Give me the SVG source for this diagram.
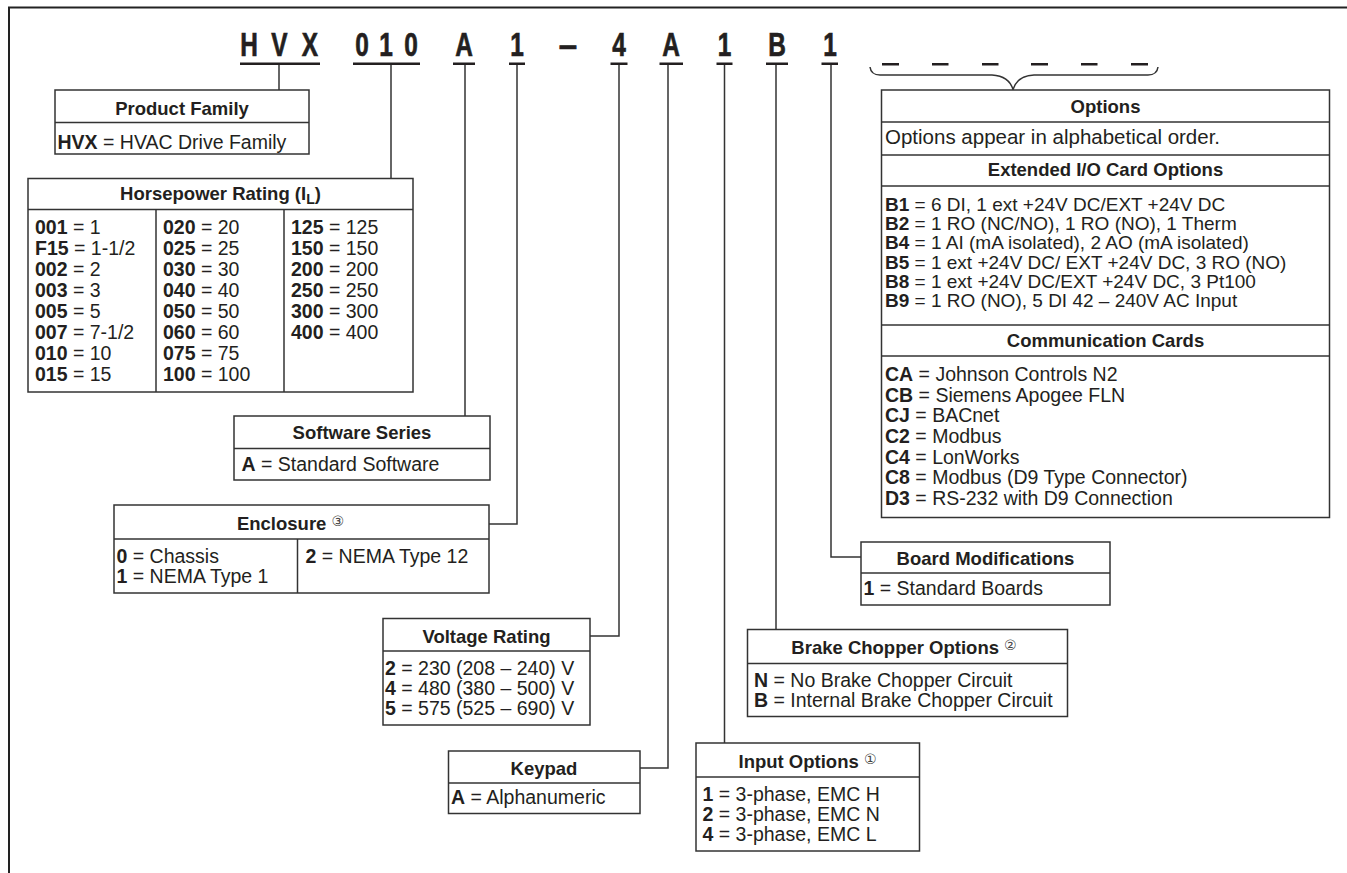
<svg xmlns="http://www.w3.org/2000/svg" width="1347" height="873" viewBox="0 0 1347 873">
<style>
.box{fill:#fff;stroke:#333;stroke-width:1.5}
.div{fill:none;stroke:#333;stroke-width:1.5}
.ln{fill:none;stroke:#333;stroke-width:1.5}
.frame{fill:none;stroke:#222;stroke-width:2}
.h{font-family:"Liberation Sans",Arial,sans-serif;font-weight:bold;font-size:18.5px;fill:#231f20;text-anchor:middle}
.t{font-family:"Liberation Sans",Arial,sans-serif;font-size:19.5px;fill:#231f20}
.s{font-size:19px}
.b{font-weight:bold}
.code{font-family:"Liberation Sans",Arial,sans-serif;font-weight:bold;font-size:33px;fill:#231f20;stroke:#231f20;stroke-width:0.7;text-anchor:middle}
.ul{fill:#231f20}
.c{font-family:"DejaVu Sans",sans-serif;font-size:14px;font-weight:normal;fill:#444}
.sub{font-size:14px}
</style>

<g id="frame">
<path class="frame" d="M9,873 V7.5 H1347"/>
</g>

<g id="code">
<text class="code" transform="translate(249,56) scale(0.74,1)">H</text>
<text class="code" transform="translate(279.5,56) scale(0.74,1)">V</text>
<text class="code" transform="translate(310,56) scale(0.74,1)">X</text>
<text class="code" transform="translate(362,56) scale(0.74,1)">0</text>
<text class="code" transform="translate(386,56) scale(0.74,1)">1</text>
<text class="code" transform="translate(411,56) scale(0.74,1)">0</text>
<text class="code" transform="translate(464,56) scale(0.74,1)">A</text>
<text class="code" transform="translate(517,56) scale(0.74,1)">1</text>
<text class="code" transform="translate(568,56)">–</text>
<text class="code" transform="translate(619,56) scale(0.74,1)">4</text>
<text class="code" transform="translate(671,56) scale(0.74,1)">A</text>
<text class="code" transform="translate(724.5,56) scale(0.74,1)">1</text>
<text class="code" transform="translate(777,56) scale(0.74,1)">B</text>
<text class="code" transform="translate(830,56) scale(0.74,1)">1</text>
<rect class="ul" x="240" y="62.5" width="80" height="2.5"/>
<rect class="ul" x="353" y="62.5" width="67" height="2.5"/>
<rect class="ul" x="453" y="62.5" width="22" height="2.5"/>
<rect class="ul" x="509" y="62.5" width="16" height="2.5"/>
<rect class="ul" x="610.5" y="62.5" width="17" height="2.5"/>
<rect class="ul" x="659.5" y="62.5" width="23.5" height="2.5"/>
<rect class="ul" x="716.5" y="62.5" width="16" height="2.5"/>
<rect class="ul" x="766" y="62.5" width="22" height="2.5"/>
<rect class="ul" x="821.5" y="62.5" width="16.5" height="2.5"/>
<rect class="ul" x="882" y="63" width="17" height="2.5"/>
<rect class="ul" x="932" y="63" width="16.5" height="2.5"/>
<rect class="ul" x="982" y="63" width="16.5" height="2.5"/>
<rect class="ul" x="1031" y="63" width="17" height="2.5"/>
<rect class="ul" x="1081" y="63" width="16.5" height="2.5"/>
<rect class="ul" x="1131" y="63" width="17" height="2.5"/>
</g>

<g id="connectors">
<path class="ln" d="M279,65 V90"/>
<path class="ln" d="M391,65 V178"/>
<path class="ln" d="M465,65 V416"/>
<path class="ln" d="M517,65 V524 H489"/>
<path class="ln" d="M619,65 V636 H590"/>
<path class="ln" d="M668,65 V768 H640"/>
<path class="ln" d="M724.5,65 V743"/>
<path class="ln" d="M776,65 V629.5"/>
<path class="ln" d="M831,65 V557 H861"/>
<path class="ln" d="M870,67 Q871,75 880,75 L992,75 Q1009,76 1013,89.5 Q1017,76 1034,75 L1148,75 Q1157,75 1158,67"/>
</g>

<g id="product-family">
<rect class="box" x="55" y="90" width="254" height="64"/>
<line class="div" x1="55" y1="122.5" x2="309" y2="122.5"/>
<text class="h" x="182" y="115">Product Family</text>
<text class="t" x="57.5" y="148.5"><tspan class="b">HVX</tspan> = HVAC Drive Family</text>
</g>

<g id="horsepower-rating">
<rect class="box" x="28" y="178.5" width="385" height="213.5"/>
<line class="div" x1="28" y1="209.5" x2="413" y2="209.5"/>
<line class="div" x1="156" y1="209.5" x2="156" y2="392"/>
<line class="div" x1="284" y1="209.5" x2="284" y2="392"/>
<text class="h" x="220.5" y="200">Horsepower Rating (I<tspan class="sub" dy="4">L</tspan><tspan dy="-4">)</tspan></text>
<text class="t" x="35" y="234.3"><tspan class="b">001</tspan> = 1</text>
<text class="t" x="35" y="255.3"><tspan class="b">F15</tspan> = 1-1/2</text>
<text class="t" x="35" y="276.3"><tspan class="b">002</tspan> = 2</text>
<text class="t" x="35" y="297.3"><tspan class="b">003</tspan> = 3</text>
<text class="t" x="35" y="318.3"><tspan class="b">005</tspan> = 5</text>
<text class="t" x="35" y="339.3"><tspan class="b">007</tspan> = 7-1/2</text>
<text class="t" x="35" y="360.3"><tspan class="b">010</tspan> = 10</text>
<text class="t" x="35" y="381.3"><tspan class="b">015</tspan> = 15</text>
<text class="t" x="163" y="234.3"><tspan class="b">020</tspan> = 20</text>
<text class="t" x="163" y="255.3"><tspan class="b">025</tspan> = 25</text>
<text class="t" x="163" y="276.3"><tspan class="b">030</tspan> = 30</text>
<text class="t" x="163" y="297.3"><tspan class="b">040</tspan> = 40</text>
<text class="t" x="163" y="318.3"><tspan class="b">050</tspan> = 50</text>
<text class="t" x="163" y="339.3"><tspan class="b">060</tspan> = 60</text>
<text class="t" x="163" y="360.3"><tspan class="b">075</tspan> = 75</text>
<text class="t" x="163" y="381.3"><tspan class="b">100</tspan> = 100</text>
<text class="t" x="291" y="234.3"><tspan class="b">125</tspan> = 125</text>
<text class="t" x="291" y="255.3"><tspan class="b">150</tspan> = 150</text>
<text class="t" x="291" y="276.3"><tspan class="b">200</tspan> = 200</text>
<text class="t" x="291" y="297.3"><tspan class="b">250</tspan> = 250</text>
<text class="t" x="291" y="318.3"><tspan class="b">300</tspan> = 300</text>
<text class="t" x="291" y="339.3"><tspan class="b">400</tspan> = 400</text>
</g>

<g id="software-series">
<rect class="box" x="234" y="416" width="256" height="64"/>
<line class="div" x1="234" y1="448.5" x2="490" y2="448.5"/>
<text class="h" x="362" y="439">Software Series</text>
<text class="t" x="241.5" y="470.5"><tspan class="b">A</tspan> = Standard Software</text>
</g>

<g id="enclosure">
<rect class="box" x="114" y="505" width="375" height="88"/>
<line class="div" x1="114" y1="539" x2="489" y2="539"/>
<line class="div" x1="297.5" y1="539" x2="297.5" y2="593"/>
<text class="h" x="290.5" y="530">Enclosure <tspan class="c" dy="-4">③</tspan></text>
<text class="t" x="116.5" y="563"><tspan class="b">0</tspan> = Chassis</text>
<text class="t" x="116.5" y="583"><tspan class="b">1</tspan> = NEMA Type 1</text>
<text class="t" x="305.5" y="563"><tspan class="b">2</tspan> = NEMA Type 12</text>
</g>

<g id="voltage-rating">
<rect class="box" x="383" y="618.5" width="207" height="106.5"/>
<line class="div" x1="383" y1="651" x2="590" y2="651"/>
<text class="h" x="486.5" y="643">Voltage Rating</text>
<text class="t" x="385" y="675"><tspan class="b">2</tspan> = 230 (208 – 240) V</text>
<text class="t" x="385" y="695"><tspan class="b">4</tspan> = 480 (380 – 500) V</text>
<text class="t" x="385" y="715"><tspan class="b">5</tspan> = 575 (525 – 690) V</text>
</g>

<g id="keypad">
<rect class="box" x="448.5" y="751" width="191.5" height="62.5"/>
<line class="div" x1="448.5" y1="783" x2="640" y2="783"/>
<text class="h" x="544" y="774.5">Keypad</text>
<text class="t" x="451" y="804"><tspan class="b">A</tspan> = Alphanumeric</text>
</g>

<g id="options">
<rect class="box" x="881.5" y="90" width="448" height="427.5"/>
<line class="div" x1="881.5" y1="122" x2="1329.5" y2="122"/>
<line class="div" x1="881.5" y1="155" x2="1329.5" y2="155"/>
<line class="div" x1="881.5" y1="186" x2="1329.5" y2="186"/>
<line class="div" x1="881.5" y1="325" x2="1329.5" y2="325"/>
<line class="div" x1="881.5" y1="356" x2="1329.5" y2="356"/>
<text class="h" x="1105.5" y="113">Options</text>
<text class="t" x="885" y="143.5" style="font-size:20.5px">Options appear in alphabetical order.</text>
<text class="h" x="1105.5" y="175.5">Extended I/O Card Options</text>
<text class="t s" x="885" y="210.7"><tspan class="b">B1</tspan> = 6 DI, 1 ext +24V DC/EXT +24V DC</text>
<text class="t s" x="885" y="230"><tspan class="b">B2</tspan> = 1 RO (NC/NO), 1 RO (NO), 1 Therm</text>
<text class="t s" x="885" y="249.3"><tspan class="b">B4</tspan> = 1 AI (mA isolated), 2 AO (mA isolated)</text>
<text class="t s" x="885" y="268.5"><tspan class="b">B5</tspan> = 1 ext +24V DC/ EXT +24V DC, 3 RO (NO)</text>
<text class="t s" x="885" y="287.7"><tspan class="b">B8</tspan> = 1 ext +24V DC/EXT +24V DC, 3 Pt100</text>
<text class="t s" x="885" y="306.8"><tspan class="b">B9</tspan> = 1 RO (NO), 5 DI 42 – 240V AC Input</text>
<text class="h" x="1105.5" y="347">Communication Cards</text>
<text class="t" x="885" y="381"><tspan class="b">CA</tspan> = Johnson Controls N2</text>
<text class="t" x="885" y="401.7"><tspan class="b">CB</tspan> = Siemens Apogee FLN</text>
<text class="t" x="885" y="422.3"><tspan class="b">CJ</tspan> = BACnet</text>
<text class="t" x="885" y="443"><tspan class="b">C2</tspan> = Modbus</text>
<text class="t" x="885" y="463.6"><tspan class="b">C4</tspan> = LonWorks</text>
<text class="t" x="885" y="484.3"><tspan class="b">C8</tspan> = Modbus (D9 Type Connector)</text>
<text class="t" x="885" y="505"><tspan class="b">D3</tspan> = RS-232 with D9 Connection</text>
</g>

<g id="board-modifications">
<rect class="box" x="861" y="542" width="249" height="63"/>
<line class="div" x1="861" y1="573" x2="1110" y2="573"/>
<text class="h" x="985.5" y="564.5">Board Modifications</text>
<text class="t" x="863.5" y="595"><tspan class="b">1</tspan> = Standard Boards</text>
</g>

<g id="brake-chopper-options">
<rect class="box" x="747.5" y="629.5" width="320" height="87"/>
<line class="div" x1="747.5" y1="663.5" x2="1067.5" y2="663.5"/>
<text class="h" x="904" y="653.5">Brake Chopper Options <tspan class="c" dy="-4">②</tspan></text>
<text class="t" x="754" y="686.7"><tspan class="b">N</tspan> = No Brake Chopper Circuit</text>
<text class="t" x="754" y="706.7"><tspan class="b">B</tspan> = Internal Brake Chopper Circuit</text>
</g>

<g id="input-options">
<rect class="box" x="696" y="743" width="223.5" height="108"/>
<line class="div" x1="696" y1="777" x2="919.5" y2="777"/>
<text class="h" x="807.5" y="767.5">Input Options <tspan class="c" dy="-4">①</tspan></text>
<text class="t" x="702.5" y="800.7"><tspan class="b">1</tspan> = 3-phase, EMC H</text>
<text class="t" x="702.5" y="820.7"><tspan class="b">2</tspan> = 3-phase, EMC N</text>
<text class="t" x="702.5" y="840.7"><tspan class="b">4</tspan> = 3-phase, EMC L</text>
</g>
</svg>
